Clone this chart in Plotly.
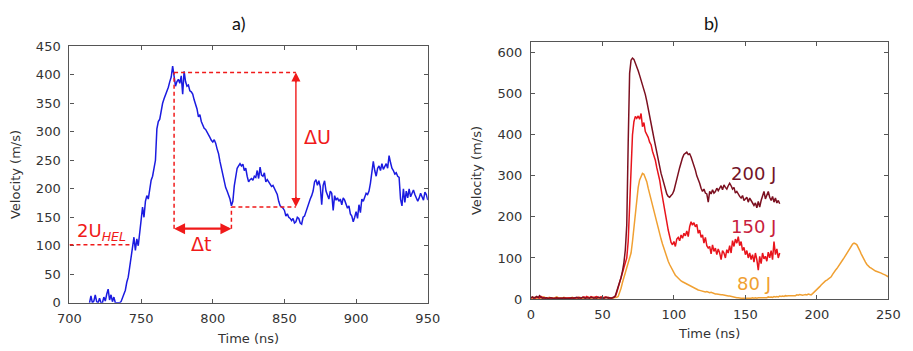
import plotly.graph_objects as go

# ---------------- Panel a) data ----------------
a_time = list(range(714, 951))
a_vel = [0, 12, 0, 3, 14, 2, 0, 8, 0, 0, 10, 3, 15, 24, 5, 14, 2, 10, 0, 0,   # 714-733
         0, 0, 2, 8, 14, 22, 36, 45, 62, 80, 98, 115, 92, 112, 100, 128, 145,  # 734-750
         168, 150, 178, 188, 182, 200, 215, 222, 238, 250,                    # 751-760
         305, 318, 322, 338, 350, 358, 364, 372, 378, 388,                    # 761-770
         396, 415, 393, 380, 388, 392, 385, 398, 366, 406,                    # 771-780
         388, 380, 382, 372, 370, 366, 356, 348, 340, 326,                    # 781-790
         330, 318, 312, 306, 304, 300, 296, 290, 285, 282,                    # 791-800
         286, 280, 270, 262, 248, 236, 225, 212, 202, 196,                    # 801-810
         190, 182, 170, 178, 205, 222, 236, 240, 244, 240,                    # 811-820
         243, 232, 236, 222, 212, 216, 218, 215, 222, 220,                    # 821-830
         232, 218, 238, 224, 222, 228, 212, 216, 212, 210,                    # 831-840
         204, 206, 200, 196, 190, 178, 170, 168, 166, 162,                    # 841-850
         152, 156, 150, 148, 144, 148, 140, 142, 150, 148,                    # 851-860
         140, 138, 150, 152, 160, 170, 176, 182, 188, 196,                    # 861-870
         212, 216, 206, 214, 204, 172, 206, 214, 196, 190,                    # 871-880
         182, 196, 192, 162, 188, 180, 184, 178, 182, 172,                    # 881-890
         184, 180, 174, 166, 170, 156, 152, 142, 150, 160,                    # 891-900
         148, 172, 158, 182, 178, 186, 192, 190, 196, 210,                    # 901-910
         228, 248, 232, 222, 236, 240, 232, 244, 234, 238,                    # 911-920
         244, 236, 258, 246, 236, 232, 226, 228, 222, 220,                    # 921-930
         182, 170, 200, 176, 196, 184, 200, 186, 194, 198,                    # 931-940
         190, 184, 178, 184, 192, 186, 180, 194, 190, 180]                    # 941-950

# annotation levels
u_peak = 404
u_min = 168
t_peak = 773
t_min = 813
t_du = 858
u_hel2 = 102
dt_level = 130

# ---------------- Panel b) data ----------------
b_time_200 = list(range(0, 175))
v_200 = [3, 5, 2, 4, 6, 3, 8, 4, 2, 3,
         2, 3, 1, 2, 3, 2, 1, 2, 3, 2,
         2, 1, 2, 3, 1, 2, 2, 1, 3, 2,
         2, 3, 4, 2, 3, 2, 4, 3, 2, 3,
         3, 2, 4, 3, 2, 3, 2, 4, 3, 2,
         3, 2, 3, 4, 2, 3, 2, 3, 4, 8,
         18, 30, 40, 52, 68, 88, 120, 180, 380, 550,
         582, 587, 584, 576, 566, 556, 545, 534, 522, 512,
         498, 482, 466, 448, 428, 410, 392, 374, 356, 340,
         322, 306, 294, 280, 268, 256, 250, 248, 252, 256,
         264, 276, 292, 306, 320, 334, 344, 352, 354, 358,
         352, 354, 346, 336, 322, 314, 300, 292, 282, 270,
         262, 268, 258, 256, 236, 262, 256, 266, 258, 262,
         270, 264, 270, 276, 266, 278, 272, 268, 276, 282,
         276, 268, 272, 258, 262, 254, 250, 246, 252, 240,
         244, 248, 236, 246, 240, 232, 228, 234, 222, 238,
         224, 240, 252, 262, 244, 256, 262, 248, 240, 250,
         236, 246, 234, 240, 232]

b_time_150 = list(range(0, 175))
v_150 = [2, 4, 3, 2, 5, 3, 2, 6, 3, 2,
         3, 2, 1, 3, 2, 2, 1, 2, 2, 3,
         2, 3, 2, 1, 3, 2, 2, 3, 1, 2,
         3, 2, 3, 4, 3, 2, 4, 5, 3, 6,
         4, 3, 6, 4, 3, 5, 6, 4, 3, 5,
         4, 3, 5, 3, 4, 3, 2, 3, 4, 6,
         16, 28, 40, 52, 62, 72, 82, 100, 140, 220,
         330, 400, 432, 445, 440, 446, 438, 452, 420, 430,
         408, 402, 394, 382, 376, 360, 350, 338, 320, 306,
         290, 268, 250, 230, 210, 188, 168, 150, 138, 132,
         140, 128, 146, 150, 142, 156, 148, 160, 154, 166,
         152, 176, 188, 180, 186, 176, 182, 160, 168, 150,
         156, 136, 150, 130, 124, 128, 110, 132, 116, 124,
         108, 122, 112, 96, 118, 112, 100, 120, 112, 130,
         112, 142, 128, 146, 136, 152, 130, 140, 118, 126,
         108, 118, 100, 112, 96, 108, 90, 112, 96, 70,
         104, 86, 112, 98, 104, 92, 114, 100, 118, 96,
         140, 108, 122, 100, 112]

b_time_80 = list(range(0, 251))
v_80 = [3, 2, 4, 3, 2, 3, 4, 2, 3, 5,
        3, 2, 3, 4, 2, 3, 2, 3, 5, 3,
        2, 3, 2, 4, 3, 2, 3, 2, 3, 4,
        2, 3, 2, 3, 4, 3, 2, 3, 2, 3,
        4, 3, 2, 3, 4, 2, 3, 2, 3, 4,
        3, 2, 3, 4, 3, 2, 3, 2, 3, 3,
        4, 6, 14, 26, 40, 52, 62, 72, 82, 94,
        112, 140, 176, 210, 248, 272, 290, 300, 306, 304,
        296, 286, 270, 256, 244, 226, 210, 196, 182, 170,
        158, 146, 134, 122, 110, 100, 92, 84, 76, 70,
        64, 58, 54, 50, 48, 44, 42, 40, 38, 36,
        34, 33, 30, 28, 26, 25, 23, 22, 21, 20,
        19, 18, 17, 18, 16, 15, 16, 14, 13, 12,
        12, 11, 11, 10, 10, 9, 8, 8, 7, 7,
        6, 5, 5, 4, 3, 3, 2, 2, 2, 2,
        2, 2, 1, 2, 2, 3, 2, 3, 2, 3,
        3, 3, 4, 3, 4, 3, 5, 4, 5, 4,
        6, 5, 6, 5, 7, 6, 7, 6, 8, 7,
        8, 8, 9, 8, 9, 8, 10, 9, 11, 10,
        9, 10, 11, 10, 12, 11, 10, 13, 16, 19,
        22, 26, 30, 34, 38, 41, 44, 46, 48, 51,
        54, 60, 66, 70, 74, 80, 86, 90, 95, 100,
        106, 112, 118, 124, 130, 134, 136, 135, 132, 126,
        118, 110, 102, 96, 90, 84, 80, 77, 75, 72,
        70, 68, 67, 66, 65, 63, 61, 60, 58, 56,
        54]

labels_b = ["200 J", "150 J", "80 J"]
label_pos_b = [(156, 305), (156, 176), (156, 37)]

# ---------------- styles ----------------
RED = "#f01a1a"
BLUE = "#1b1be0"
C200 = "#7c1020"
C150 = "#e8141c"
C80 = "#f0a032"
L200 = "#741428"
L150 = "#c8203c"
L80 = "#f0a032"
AXC = "#555555"
TXT = "#333333"
FONT = "DejaVu Sans"

fig = go.Figure()
fig.add_trace(go.Scatter(x=a_time, y=a_vel, mode="lines",
                         line=dict(color=BLUE, width=1.5), xaxis="x", yaxis="y",
                         showlegend=False))
fig.add_trace(go.Scatter(x=b_time_80, y=v_80, mode="lines",
                         line=dict(color=C80, width=1.5), xaxis="x2", yaxis="y2",
                         showlegend=False))
fig.add_trace(go.Scatter(x=b_time_150, y=v_150, mode="lines",
                         line=dict(color=C150, width=1.5), xaxis="x2", yaxis="y2",
                         showlegend=False))
fig.add_trace(go.Scatter(x=b_time_200, y=v_200, mode="lines",
                         line=dict(color=C200, width=1.5), xaxis="x2", yaxis="y2",
                         showlegend=False))

dash = dict(color=RED, width=1.5, dash="4px,3px")
shapes = [
    dict(type="line", xref="x", yref="y", x0=t_peak, x1=t_du, y0=u_peak, y1=u_peak, line=dash),
    dict(type="line", xref="x", yref="y", x0=t_peak, x1=t_peak, y0=dt_level, y1=u_peak, line=dash),
    dict(type="line", xref="x", yref="y", x0=t_min, x1=t_min, y0=dt_level, y1=u_min, line=dash),
    dict(type="line", xref="x", yref="y", x0=t_min, x1=t_du, y0=u_min, y1=u_min, line=dash),
    dict(type="line", xref="x", yref="y", x0=700, x1=743, y0=u_hel2, y1=u_hel2, line=dash),
    # shafts of the two double arrows
    dict(type="line", xref="x", yref="y", x0=t_du, x1=t_du, y0=u_min + 8, y1=u_peak - 8,
         line=dict(color=RED, width=1.4)),
    dict(type="line", xref="x", yref="y", x0=t_peak + 3, x1=t_min - 3, y0=dt_level, y1=dt_level,
         line=dict(color=RED, width=2.2)),
]

head = dict(showarrow=True, arrowhead=2, arrowcolor=RED, xref="x", yref="y",
            axref="x", ayref="y", text="")
annotations = [
    dict(x=t_du, y=u_peak, ax=t_du, ay=u_peak - 20, arrowsize=1.3, arrowwidth=1.4, **head),
    dict(x=t_du, y=u_min, ax=t_du, ay=u_min + 20, arrowsize=1.3, arrowwidth=1.4, **head),
    dict(x=t_peak, y=dt_level, ax=t_peak + 6, ay=dt_level, arrowsize=1.0, arrowwidth=2.2, **head),
    dict(x=t_min, y=dt_level, ax=t_min - 6, ay=dt_level, arrowsize=1.0, arrowwidth=2.2, **head),
    dict(x=862, y=290, xref="x", yref="y", text="ΔU", showarrow=False, xanchor="left",
         yanchor="middle", font=dict(family=FONT, size=19, color=RED)),
    dict(x=792, y=104, xref="x", yref="y", text="Δt", showarrow=False, xanchor="center",
         yanchor="middle", font=dict(family=FONT, size=19, color=RED)),
    dict(x=704, y=124, xref="x", yref="y", text="2U<sub><i>HEL</i></sub>", showarrow=False,
         xanchor="left", yanchor="middle", font=dict(family=FONT, size=18, color=RED)),
    dict(x=233 / 913, y=1 - 17 / 351, xref="paper", yref="paper", text="a)",
         showarrow=False, xanchor="center", yanchor="middle",
         font=dict(family="Lato", size=18, color="#111111")),
    dict(x=718 / 913, y=1 - 17 / 351, xref="paper", yref="paper", text="b)",
         showarrow=False, xanchor="center", yanchor="middle",
         font=dict(family="Lato", size=18, color="#111111")),
]

for lab, (tx, vy), col in zip(labels_b, label_pos_b, [L200, L150, L80]):
    annotations.append(dict(x=tx, y=vy, xref="x2", yref="y2", text=lab, showarrow=False,
                            xanchor="center", yanchor="middle",
                            font=dict(family=FONT, size=18, color=col)))

axis_common = dict(showline=True, linecolor=AXC, linewidth=1.3, mirror="ticks",
                   ticks="inside", ticklen=4, tickcolor=AXC, tickwidth=1.2,
                   showgrid=False, zeroline=False,
                   tickfont=dict(family=FONT, size=13, color=TXT),
                   title_font=dict(family=FONT, size=13, color=TXT))

fig.update_layout(
    width=913, height=351,
    margin=dict(l=0, r=0, t=0, b=0),
    paper_bgcolor="white", plot_bgcolor="white",
    shapes=shapes, annotations=annotations,
    xaxis=dict(domain=[59 / 913, 427 / 913], range=[700, 950], dtick=50,
               ticklabelstandoff=3,
               title=dict(text="Time (ns)", standoff=9), anchor="y", **axis_common),
    yaxis=dict(domain=[1 - 309 / 351, 1 - 41 / 351], range=[0, 450], dtick=50,
               ticklabelstandoff=5,
               title=dict(text="Velocity (m/s)", standoff=12), anchor="x", **axis_common),
    xaxis2=dict(domain=[533 / 913, 900 / 913], range=[0, 250], dtick=50,
                ticklabelstandoff=3,
                title=dict(text="Time (ns)", standoff=8), anchor="y2", **axis_common),
    yaxis2=dict(domain=[1 - 305 / 351, 1 - 36.7 / 351], range=[0, 626], dtick=100,
                ticklabelstandoff=5,
                title=dict(text="Velocity (m/s)", standoff=12), anchor="x2", **axis_common),
)

fig.write_html("out.html")
